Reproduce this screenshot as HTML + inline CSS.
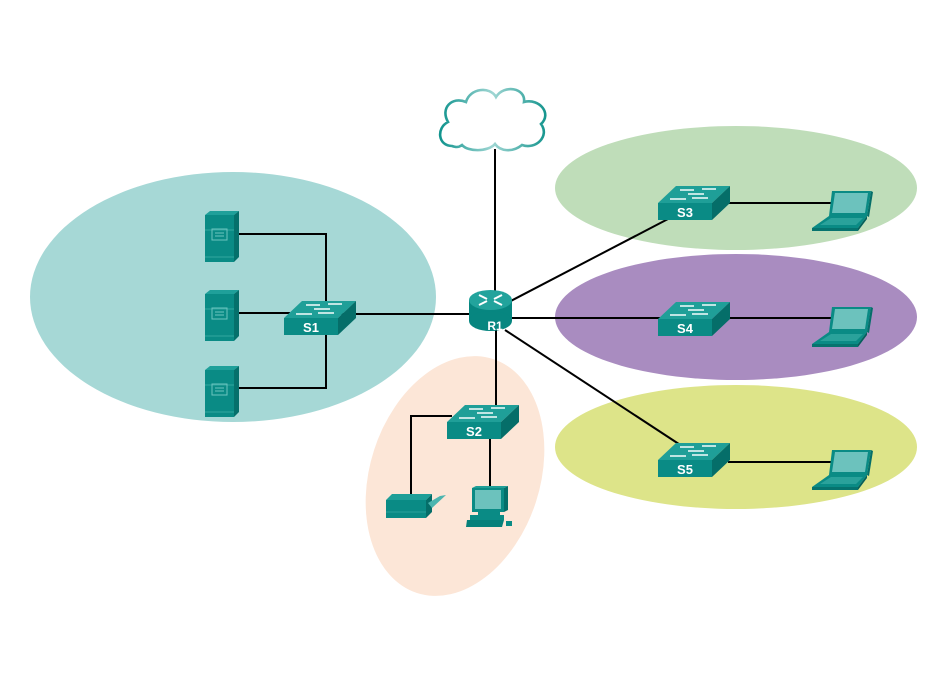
<!DOCTYPE html>
<html><head><meta charset="utf-8"><style>
html,body{margin:0;padding:0;background:#fff;}
svg{display:block;}
text{font-family:"Liberation Sans",Arial,sans-serif;font-weight:bold;fill:#fff;}
</style></head><body>
<svg width="944" height="681" viewBox="0 0 944 681" xmlns="http://www.w3.org/2000/svg">
<defs>
<linearGradient id="cg" x1="0" y1="0" x2="1" y2="0">
<stop offset="0" stop-color="#11948e"/><stop offset="0.5" stop-color="#9fd6d3"/><stop offset="1" stop-color="#17968f"/>
</linearGradient>
<g id="sw">
<polygon points="0,0 54,0 72,-17 18,-17" fill="#1f9f98"/>
<rect x="0" y="0" width="54" height="17" fill="#0a8b85"/>
<polygon points="54,0 72,-17 72,0 54,17" fill="#056e69"/>
<g stroke="#e8f7f6" stroke-width="1.6" fill="none">
<line x1="22" y1="-13" x2="36" y2="-13"/><line x1="44" y1="-14" x2="58" y2="-14"/>
<line x1="30" y1="-9" x2="46" y2="-9"/>
<line x1="12" y1="-4" x2="28" y2="-4"/><line x1="34" y1="-5" x2="50" y2="-5"/>
</g>
</g>
<g id="srv">
<polygon points="0,4 29,4 34,0 5,0" fill="#1fa09a"/>
<rect x="0" y="4" width="29" height="47" fill="#0a8b85"/>
<polygon points="29,4 34,0 34,46 29,51" fill="#05706b"/>
<line x1="0" y1="19" x2="29" y2="19" stroke="#3fb0aa" stroke-width="0.8"/>
<line x1="0" y1="46" x2="29" y2="46" stroke="#3fb0aa" stroke-width="0.8"/>
<rect x="7" y="18" width="15" height="11" fill="none" stroke="#6cc4bf" stroke-width="1"/>
<line x1="10" y1="22" x2="19" y2="22" stroke="#6cc4bf"/><line x1="10" y1="25" x2="19" y2="25" stroke="#6cc4bf"/>
</g>
<g id="lap">
<polygon points="20,0 59,0 55,25 17,25" fill="#0a8b85"/>
<polygon points="23,2 56,2 53,22 20,22" fill="#6cc2bd"/>
<polygon points="59,0 61,1 57,26 55,25" fill="#056e69"/>
<polygon points="17,25 55,25 46,37 0,37" fill="#0a8b85"/>
<polygon points="19,27 51,27 44,34 8,34" fill="#2aa29b"/>
<rect x="0" y="37" width="46" height="3" fill="#06736e"/>
<polygon points="46,37 55,25 55,28 46,40" fill="#055f5b"/>
</g>
</defs>

<!-- zones -->
<ellipse cx="233" cy="297" rx="203" ry="125" fill="#a6d8d6"/>
<ellipse cx="736" cy="188" rx="181" ry="62" fill="#bfddb9"/>
<ellipse cx="736" cy="317" rx="181" ry="63" fill="#a98cc0"/>
<ellipse cx="736" cy="447" rx="181" ry="62" fill="#dde489"/>
<ellipse cx="455" cy="476" rx="85" ry="123" transform="rotate(18 455 476)" fill="#fce6d7"/>

<!-- cloud -->
<path d="M452 146 C438 146 436 128 448 122 C440 108 452 96 466 102 C470 88 490 86 496 97 C504 84 526 88 524 102 C540 98 552 114 541 124 C550 136 536 150 522 145 C512 153 500 151 495 144 C488 152 468 152 462 145 C458 148 455 147 452 146 Z" fill="#fff" stroke="url(#cg)" stroke-width="2.6"/>

<!-- links -->
<g stroke="#000" stroke-width="2" fill="none">
<line x1="495" y1="149" x2="495" y2="292"/>
<line x1="340" y1="314" x2="472" y2="314"/>
<line x1="510" y1="318" x2="660" y2="318"/>
<line x1="505" y1="304" x2="668" y2="219"/>
<line x1="505" y1="330" x2="688" y2="450"/>
<line x1="496" y1="326" x2="496" y2="408"/>
<polyline points="238,234 326,234 326,388 238,388"/>
<line x1="238" y1="313" x2="290" y2="313"/>
<polyline points="452,416 411,416 411,494"/>
<line x1="490" y1="438" x2="490" y2="488"/>
<line x1="728" y1="203" x2="832" y2="203"/>
<line x1="728" y1="318" x2="832" y2="318"/>
<line x1="728" y1="462" x2="832" y2="462"/>
</g>

<!-- servers -->
<use href="#srv" x="205" y="211"/>
<use href="#srv" x="205" y="290"/>
<use href="#srv" x="205" y="366"/>

<!-- switches -->
<use href="#sw" x="284" y="318"/>
<text x="311" y="332" font-size="13" text-anchor="middle">S1</text>
<use href="#sw" x="447" y="422"/>
<text x="474" y="436" font-size="13" text-anchor="middle">S2</text>
<use href="#sw" x="658" y="203"/>
<text x="685" y="217" font-size="13" text-anchor="middle">S3</text>
<use href="#sw" x="658" y="319"/>
<text x="685" y="333" font-size="13" text-anchor="middle">S4</text>
<use href="#sw" x="658" y="460"/>
<text x="685" y="474" font-size="13" text-anchor="middle">S5</text>

<!-- router -->
<rect x="469" y="300" width="43" height="21" fill="#078680"/>
<ellipse cx="490.5" cy="321" rx="21.5" ry="10" fill="#078680"/>
<ellipse cx="490.5" cy="300" rx="21.5" ry="10" fill="#22a39c"/>
<g stroke="#ffffff" stroke-width="2" fill="none">
<line x1="479" y1="295" x2="487" y2="299"/><line x1="494" y1="301" x2="502" y2="305"/>
<line x1="502" y1="295" x2="494" y2="299"/><line x1="487" y1="301" x2="479" y2="305"/>
</g>
<text x="495" y="330" font-size="12" text-anchor="middle">R1</text>

<!-- laptops -->
<use href="#lap" x="812" y="191"/>
<use href="#lap" x="812" y="307"/>
<use href="#lap" x="812" y="450"/>

<!-- printer -->
<polygon points="386,500 426,500 432,494 392,494" fill="#1f9f98"/>
<rect x="386" y="500" width="40" height="18" fill="#0a8b85"/>
<polygon points="426,500 432,494 432,512 426,518" fill="#056e69"/>
<line x1="386" y1="512" x2="426" y2="512" stroke="#2aa29b" stroke-width="1"/>
<polygon points="428,503 440,496 446,495 432,508" fill="#4cb5af"/>

<!-- PC -->
<rect x="472" y="488" width="32" height="24" fill="#0a8b85"/>
<polygon points="504,488 508,486 508,510 504,512" fill="#056e69"/>
<polygon points="472,488 476,486 508,486 504,488" fill="#1f9f98"/>
<rect x="475" y="490" width="26" height="19" fill="#6cc2bd"/>
<rect x="478" y="512" width="22" height="3" fill="#0a8b85"/>
<rect x="470" y="515" width="34" height="5" fill="#0a8b85"/>
<polygon points="467,520 504,520 502,527 466,527" fill="#06807a"/>
<rect x="506" y="521" width="6" height="5" fill="#0a8b85"/>
</svg>
</body></html>
